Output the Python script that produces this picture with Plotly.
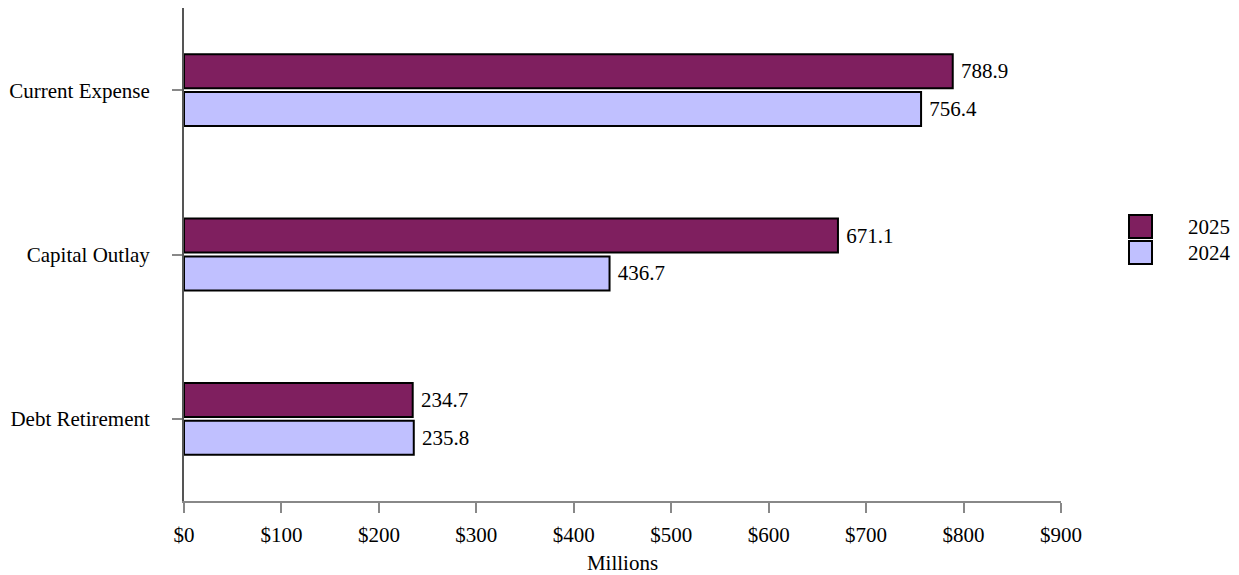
import plotly.graph_objects as go

categories = ["Current Expense", "Capital Outlay", "Debt Retirement"]
values_2025 = [788.9, 671.1, 234.7]
values_2024 = [756.4, 436.7, 235.8]
tick_vals = [0, 100, 200, 300, 400, 500, 600, 700, 800, 900]
tick_text = ["$0", "$100", "$200", "$300", "$400", "$500", "$600", "$700", "$800", "$900"]
series_names = ["2025", "2024"]
series_values = [values_2025, values_2024]
series_colors = ["#7F1F5F", "#C0C0FF"]

FONT = "Liberation Serif, Times New Roman, serif"
FS = 21

# figure sized so that, with the page's default 8px body margin, it fills 1239x575
W, H = 1223, 567
L, R, T, B = 176, 170, 0, 74
PW, PH = W - L - R, H - T - B


def px_x(x):  # figure pixel -> paper x
    return (x - L) / PW


def px_y(y):  # figure pixel -> paper y
    return 1 - (y - T) / PH


fig = go.Figure()
for name, vals, color in zip(series_names, series_values, series_colors):
    fig.add_trace(go.Bar(
        name=name, y=categories, x=vals, orientation="h",
        marker=dict(color=color, line=dict(color="black", width=2)),
        text=[f" {v:.1f}" for v in vals], textposition="outside",
        textfont=dict(family=FONT, size=FS, color="black"), cliponaxis=False,
        showlegend=False,
    ))

# legend drawn as swatches + labels (larger squares than the native legend allows)
for i, (name, color) in enumerate(zip(series_names, series_colors)):
    top = 207 + i * 26
    fig.add_shape(type="rect", xref="paper", yref="paper",
                  x0=px_x(1121), x1=px_x(1144), y0=px_y(top + 23), y1=px_y(top),
                  fillcolor=color, line=dict(color="black", width=2))
    fig.add_annotation(xref="paper", yref="paper", x=px_x(1178), y=px_y(top + 11.5),
                       text=name, showarrow=False, xanchor="left", yanchor="middle",
                       font=dict(family=FONT, size=FS, color="black"))

fig.update_layout(
    width=W, height=H,
    margin=dict(l=L, r=R, t=T, b=B),
    paper_bgcolor="white", plot_bgcolor="white",
    font=dict(family=FONT, size=FS, color="black"),
    barmode="group", bargap=0.54, bargroupgap=0.1,
    showlegend=False,
    xaxis=dict(range=[0, 900], tickvals=tick_vals, ticktext=tick_text,
               showgrid=False, zeroline=False, showline=True,
               linecolor="#888888", linewidth=2, ticks="outside",
               ticklen=10, tickcolor="#888888", tickwidth=2,
               ticklabelstandoff=4,
               title=dict(text="Millions", font=dict(family=FONT, size=FS), standoff=9),
               tickfont=dict(family=FONT, size=FS)),
    yaxis=dict(autorange="reversed", showgrid=False, zeroline=False,
               showline=True, linecolor="#555555", linewidth=2,
               ticks="outside", ticklen=10, tickcolor="#888888", tickwidth=2,
               ticklabelstandoff=18,
               tickfont=dict(family=FONT, size=FS)),
)

fig.write_html("out.html")
